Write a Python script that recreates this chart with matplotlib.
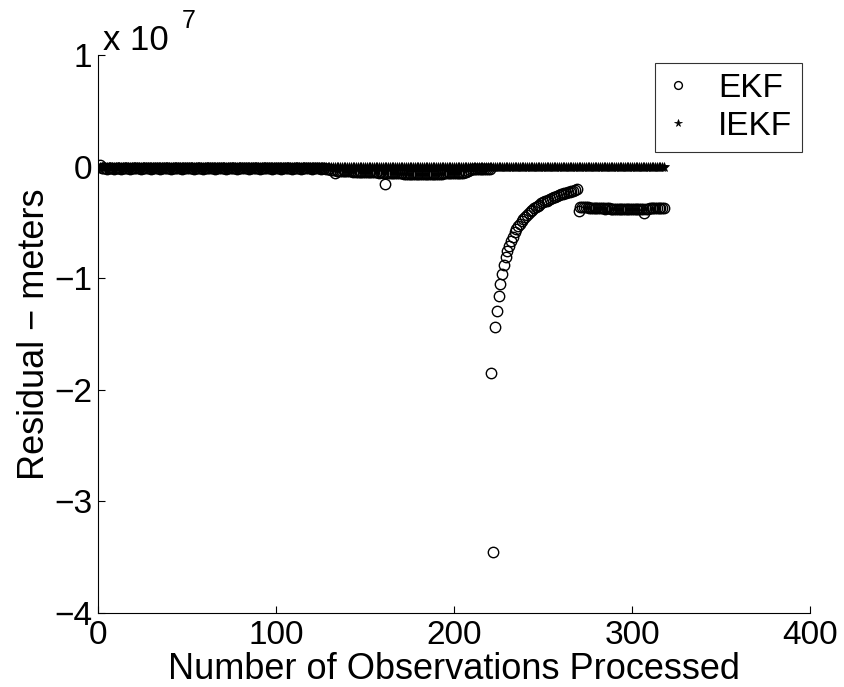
import matplotlib
matplotlib.use("Agg")
import matplotlib.pyplot as plt

plt.rcParams['font.family'] = ['Liberation Sans', 'DejaVu Sans']

# Values in units of 1e7 meters
SCALE = 1e7

ekf_n = list(range(1, 319))
ekf_values = [
    # n = 1..130
    0.01, -0.01, -0.01, -0.01, -0.02, -0.01, -0.01, -0.01, -0.02, -0.01,
    -0.01, -0.01, -0.02, -0.01, -0.01, -0.01, -0.01, -0.02, -0.01, -0.01,
    -0.01, -0.01, -0.01, -0.02, -0.01, -0.01, -0.01, -0.01, -0.01, -0.02,
    -0.01, -0.01, -0.01, -0.01, -0.02, -0.01, -0.01, -0.01, -0.01, -0.01,
    -0.02, -0.01, -0.01, -0.01, -0.01, -0.01, -0.02, -0.01, -0.01, -0.01,
    -0.01, -0.01, -0.01, -0.02, -0.01, -0.01, -0.01, -0.01, -0.02, -0.01,
    -0.01, -0.01, -0.01, -0.01, -0.01, -0.02, -0.01, -0.01, -0.01, -0.01,
    -0.01, -0.02, -0.01, -0.01, -0.01, -0.01, -0.01, -0.02, -0.01, -0.01,
    -0.01, -0.01, -0.01, -0.01, -0.02, -0.01, -0.01, -0.01, -0.01, -0.01,
    -0.02, -0.01, -0.01, -0.01, -0.01, -0.01, -0.01, -0.02, -0.01, -0.01,
    -0.01, -0.01, -0.02, -0.01, -0.01, -0.01, -0.01, -0.01, -0.02, -0.01,
    -0.01, -0.01, -0.01, -0.02, -0.01, -0.01, -0.01, -0.01, -0.01, -0.02,
    -0.01, -0.01, -0.01, -0.01, -0.02, -0.01, -0.01, -0.02, -0.02, -0.02,
    # n = 131..220
    -0.03, -0.03, -0.06, -0.04, -0.04, -0.04, -0.04, -0.04, -0.04, -0.04,
    -0.04, -0.04, -0.05, -0.04, -0.05, -0.05, -0.05, -0.05, -0.05, -0.05,
    -0.05, -0.05, -0.05, -0.05, -0.05, -0.05, -0.05, -0.06, -0.05, -0.06,
    -0.16, -0.06, -0.06, -0.06, -0.06, -0.06, -0.06, -0.06, -0.06, -0.06,
    -0.06, -0.07, -0.07, -0.07, -0.07, -0.07, -0.07, -0.07, -0.07, -0.07,
    -0.07, -0.07, -0.07, -0.07, -0.07, -0.07, -0.07, -0.07, -0.07, -0.07,
    -0.07, -0.07, -0.07, -0.06, -0.06, -0.06, -0.06, -0.06, -0.06, -0.06,
    -0.06, -0.06, -0.06, -0.06, -0.06, -0.05, -0.05, -0.04, -0.03, -0.02,
    -0.02, -0.02, -0.02, -0.02, -0.02, -0.02, -0.02, -0.02, -0.02, -0.02,
    # n = 221..222
    -1.85, -3.45,
    # n = 223..269
    -1.44, -1.29, -1.16, -1.05, -0.96, -0.88, -0.81, -0.76, -0.71, -0.67,
    -0.63, -0.59, -0.56, -0.53, -0.51, -0.49, -0.47, -0.45, -0.43, -0.42,
    -0.40, -0.39, -0.375, -0.36, -0.35, -0.34, -0.33, -0.32, -0.31, -0.305,
    -0.295, -0.29, -0.28, -0.275, -0.27, -0.26, -0.255, -0.25, -0.245, -0.24,
    -0.235, -0.23, -0.225, -0.22, -0.215, -0.21, -0.205,
    # n = 270..318
    -0.40, -0.36, -0.36, -0.36, -0.36, -0.36, -0.37, -0.37, -0.37, -0.37,
    -0.37, -0.37, -0.37, -0.37, -0.37, -0.38, -0.37, -0.37, -0.38, -0.38,
    -0.38, -0.38, -0.38, -0.38, -0.38, -0.38, -0.38, -0.38, -0.38, -0.38,
    -0.38, -0.38, -0.38, -0.38, -0.38, -0.38, -0.38, -0.42, -0.38, -0.38,
    -0.37, -0.37, -0.37, -0.37, -0.37, -0.37, -0.37, -0.37, -0.37,
]

iekf_n = list(range(1, 319))
iekf_values = [
    0.00, 0.00, 0.00, 0.00, 0.00, 0.00, 0.00, 0.00, 0.00, 0.00,
    0.00, 0.00, 0.00, 0.00, 0.00, 0.00, 0.00, 0.00, 0.00, 0.00,
    0.00, 0.00, 0.00, 0.00, 0.00, 0.00, 0.00, 0.00, 0.00, 0.00,
    0.00, 0.00, 0.00, 0.00, 0.00, 0.00, 0.00, 0.00, 0.00, 0.00,
    0.00, 0.00, 0.00, 0.00, 0.00, 0.00, 0.00, 0.00, 0.00, 0.00,
    0.00, 0.00, 0.00, 0.00, 0.00, 0.00, 0.00, 0.00, 0.00, 0.00,
    0.00, 0.00, 0.00, 0.00, 0.00, 0.00, 0.00, 0.00, 0.00, 0.00,
    0.00, 0.00, 0.00, 0.00, 0.00, 0.00, 0.00, 0.00, 0.00, 0.00,
    0.00, 0.00, 0.00, 0.00, 0.00, 0.00, 0.00, 0.00, 0.00, 0.00,
    0.00, 0.00, 0.00, 0.00, 0.00, 0.00, 0.00, 0.00, 0.00, 0.00,
    0.00, 0.00, 0.00, 0.00, 0.00, 0.00, 0.00, 0.00, 0.00, 0.00,
    0.00, 0.00, 0.00, 0.00, 0.00, 0.00, 0.00, 0.00, 0.00, 0.00,
    0.00, 0.00, 0.00, 0.00, 0.00, 0.00, 0.00, 0.00, 0.00, 0.00,
    0.00, 0.00, 0.00, 0.00, 0.00, 0.00, 0.00, 0.00, 0.00, 0.00,
    0.00, 0.00, 0.00, 0.00, 0.00, 0.00, 0.00, 0.00, 0.00, 0.00,
    0.00, 0.00, 0.00, 0.00, 0.00, 0.00, 0.00, 0.00, 0.00, 0.00,
    0.00, 0.00, 0.00, 0.00, 0.00, 0.00, 0.00, 0.00, 0.00, 0.00,
    0.00, 0.00, 0.00, 0.00, 0.00, 0.00, 0.00, 0.00, 0.00, 0.00,
    0.00, 0.00, 0.00, 0.00, 0.00, 0.00, 0.00, 0.00, 0.00, 0.00,
    0.00, 0.00, 0.00, 0.00, 0.00, 0.00, 0.00, 0.00, 0.00, 0.00,
    0.00, 0.00, 0.00, 0.00, 0.00, 0.00, 0.00, 0.00, 0.00, 0.00,
    0.00, 0.00, 0.00, 0.00, 0.00, 0.00, 0.00, 0.00, 0.00, 0.00,
    0.00, 0.00, 0.00, 0.00, 0.00, 0.00, 0.00, 0.00, 0.00, 0.00,
    0.00, 0.00, 0.00, 0.00, 0.00, 0.00, 0.00, 0.00, 0.00, 0.00,
    0.00, 0.00, 0.00, 0.00, 0.00, 0.00, 0.00, 0.00, 0.00, 0.00,
    0.00, 0.00, 0.00, 0.00, 0.00, 0.00, 0.00, 0.00, 0.00, 0.00,
    0.00, 0.00, 0.00, 0.00, 0.00, 0.00, 0.00, 0.00, 0.00, 0.00,
    0.00, 0.00, 0.00, 0.00, 0.00, 0.00, 0.00, 0.00, 0.00, 0.00,
    0.00, 0.00, 0.00, 0.00, 0.00, 0.00, 0.00, 0.00, 0.00, 0.00,
    0.00, 0.00, 0.00, 0.00, 0.00, 0.00, 0.00, 0.00, 0.00, 0.00,
    0.00, 0.00, 0.00, 0.00, 0.00, 0.00, 0.00, 0.00, 0.00, 0.00,
    0.00, 0.00, 0.00, 0.00, 0.00, 0.00, 0.00, 0.00,
]

x_ticks = [0, 100, 200, 300, 400]
y_ticks = [-4, -3, -2, -1, 0, 1]
y_tick_labels = ['\u22124', '\u22123', '\u22122', '\u22121', '0', '1']
series_labels = ['EKF', 'IEKF']
x_label = 'Number of Observations Processed'
y_label = 'Residual \u2212 meters'

fig = plt.figure(figsize=(8.44, 6.87), dpi=100)
ax = fig.add_axes([98 / 844, 1 - 613 / 687, 712 / 844, 558 / 687])

ax.plot(ekf_n, ekf_values, linestyle='none', marker='o', markersize=7.5,
        markerfacecolor='none', markeredgecolor='black', markeredgewidth=1.0,
        label=series_labels[0])
ax.plot(iekf_n, iekf_values, linestyle='none', marker='*', markersize=7.5,
        markerfacecolor='black', markeredgecolor='black', markeredgewidth=0.5,
        color='black', label=series_labels[1])

ax.set_xlim(0, 400)
ax.set_ylim(-4, 1)
ax.set_xticks(x_ticks)
ax.set_yticks(y_ticks)
ax.set_yticklabels(y_tick_labels)

for s in ['top', 'right']:
    ax.spines[s].set_visible(False)
for s in ['left', 'bottom']:
    ax.spines[s].set_linewidth(0.8)
    ax.spines[s].set_color('black')

ax.tick_params(direction='in', length=5, width=0.8, labelsize=24,
               colors='black')
ax.tick_params(axis='x', pad=5)
ax.tick_params(axis='y', pad=4)

ax.set_xlabel(x_label, fontsize=26, labelpad=1)
ax.set_ylabel(y_label, fontsize=26, labelpad=2)

ax.annotate('x 10', xy=(0, 1), xycoords='axes fraction', xytext=(5, -2),
            textcoords='offset pixels', ha='left', va='bottom', fontsize=25)
ax.annotate('7', xy=(0, 1), xycoords='axes fraction', xytext=(84, 22),
            textcoords='offset pixels', ha='left', va='bottom', fontsize=18)

leg = ax.legend(loc='upper right', bbox_to_anchor=(704 / 712, (613 - 63) / 558),
                borderaxespad=0, fontsize=24, frameon=True, fancybox=False,
                edgecolor='black', handlelength=0.8, handletextpad=0.8,
                borderpad=0.3, labelspacing=0.2, markerscale=0.75)
leg.get_frame().set_linewidth(0.8)

fig.savefig('out.png', dpi=100, facecolor='white')
